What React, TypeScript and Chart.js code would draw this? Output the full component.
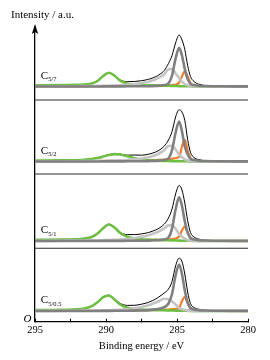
import React, { useEffect, useRef } from "react";
import { Chart, registerables } from "chart.js";

Chart.register(...registerables);

// Binding energy sample points (eV)
const energies = [295, 293, 292, 291.5, 291, 290.6, 290.2, 289.8, 289.4, 289, 288.5, 288, 287.5, 287, 286.5, 286.2, 285.9, 285.6, 285.35, 285.1, 284.85, 284.65, 284.45, 284.25, 284.05, 283.8, 283.5, 283, 282.5, 282, 281, 280];

// sample names (subscript of C) and vertical offsets of each stacked spectrum
const sampleNames = ["5/7", "5/2", "5/1", "5/0.5"];
const sampleOffsets = [235.2, 160.2, 80.7, 10.7];
const separatorLevels = [221.7, 147.7, 73.4];
const xTickValues = [295, 290, 285, 280];

// C 5/7
const s57Envelope = [1.3, 1.5, 1.8, 2.2, 3.2, 5.7, 10.7, 13.9, 11.2, 6.6, 4.8, 5.0, 5.8, 7.2, 9.8, 12.3, 16, 23, 31, 43.5, 51.5, 46.5, 37, 21, 10, 5, 2.5, 1.0, 0.5, 0.3, 0.1, 0];
const s57Main = [0, 0, 0, 0, 0, 0, 0.1, 0.1, 0.1, 0.1, 0.2, 0.2, 0.2, 0.3, 0.6, 0.9, 1.4, 3.1, 11, 27.9, 38.7, 31, 17.4, 7.4, 2.7, 1.4, 0.8, 0.5, 0.3, 0.2, 0.1, 0.1];
const s57Shoulder = [0, 0.2, 0.3, 0.4, 0.5, 0.6, 0.7, 0.8, 0.9, 1.1, 1.6, 2.4, 3.4, 4.8, 7.2, 9.3, 12.3, 17.2, 17.4, 13, 8.5, 4.8, 2.5, 1.2, 0.6, 0.3, 0.1, 0, 0, 0, 0, 0];
const s57Low = [0, 0.1, 0.2, 0.2, 0.3, 0.3, 0.35, 0.4, 0.45, 0.5, 0.6, 0.7, 0.8, 0.9, 1.0, 1.1, 1.2, 1.3, 1.5, 1.8, 4.0, 10, 15.3, 10, 3.5, 0.8, 0.3, 0.1, 0, 0, 0, 0];
const s57Carboxyl = [1.3, 1.4, 1.6, 2.0, 3.0, 5.5, 10.5, 13.7, 10.8, 5.8, 2.8, 1.8, 1.4, 1.2, 1.0, 0.9, 0.8, 0.7, 0.6, 0.5, 0.4, 0.3, 0.3, 0.2, 0.2, 0.1, 0.1, 0, 0, 0, 0, 0];

// C 5/2
const s52Envelope = [1.0, 1.2, 1.5, 2.0, 2.8, 3.8, 5.2, 6.7, 7.7, 7.4, 6.3, 6.5, 6.3, 7.3, 9.5, 11.8, 15.4, 21.5, 30, 44.5, 51.7, 49.5, 41, 22, 9, 4, 2, 0.8, 0.4, 0.2, 0.1, 0];
const s52Main = [0, 0, 0, 0, 0, 0, 0.1, 0.1, 0.1, 0.1, 0.2, 0.2, 0.2, 0.4, 0.6, 0.9, 1.5, 3.2, 11.4, 28.8, 40, 30, 15, 7, 2.8, 1.4, 0.8, 0.5, 0.3, 0.2, 0.1, 0.1];
const s52Shoulder = [0, 0.2, 0.3, 0.4, 0.5, 0.6, 0.7, 0.8, 0.9, 1.1, 1.6, 2.2, 3.0, 4.3, 6.5, 8.5, 11.3, 15.5, 15.8, 12, 7, 4.3, 2.2, 1.1, 0.5, 0.2, 0.1, 0, 0, 0, 0, 0];
const s52Low = [0, 0.2, 0.3, 0.3, 0.4, 0.5, 0.5, 0.6, 0.7, 0.8, 0.9, 1.0, 1.1, 1.3, 1.5, 1.7, 1.9, 2.2, 2.7, 3.5, 4.5, 15, 21.7, 11, 3.5, 0.9, 0.3, 0.1, 0, 0, 0, 0];
const s52Carboxyl = [1.0, 1.1, 1.3, 1.8, 2.5, 3.5, 4.9, 6.4, 7.4, 7.0, 5.3, 3.3, 2.0, 1.3, 0.9, 0.7, 0.6, 0.5, 0.4, 0.4, 0.3, 0.3, 0.2, 0.2, 0.1, 0.1, 0, 0, 0, 0, 0, 0];

// C 5/1
const s51Envelope = [1.2, 1.6, 2.0, 2.7, 4.4, 7.9, 13.2, 16.9, 14.0, 8.7, 6.4, 6.4, 7.1, 8.5, 11.1, 13.3, 16.8, 23, 32, 47, 55.5, 51, 38, 20.5, 8.5, 4, 2, 0.8, 0.4, 0.2, 0.1, 0];
const s51Main = [0, 0, 0, 0, 0, 0, 0.1, 0.1, 0.1, 0.1, 0.2, 0.2, 0.3, 0.4, 0.7, 1.0, 1.6, 3.5, 12.4, 31.5, 43.7, 35, 19.7, 8.3, 3.1, 1.5, 0.9, 0.5, 0.3, 0.2, 0.1, 0.1];
const s51Shoulder = [0, 0.3, 0.4, 0.5, 0.6, 0.7, 0.8, 0.9, 1.1, 1.4, 2.0, 2.9, 4.2, 5.8, 8.2, 10.2, 12.6, 15.6, 15.8, 12.5, 7, 4.5, 2.3, 1.1, 0.5, 0.2, 0.1, 0, 0, 0, 0, 0];
const s51Low = [0, 0.1, 0.2, 0.2, 0.3, 0.3, 0.4, 0.4, 0.5, 0.5, 0.6, 0.7, 0.8, 0.9, 1.1, 1.2, 1.3, 1.5, 1.8, 2.4, 4.5, 10.5, 14.3, 8.5, 2.5, 0.6, 0.2, 0, 0, 0, 0, 0];
const s51Carboxyl = [1.2, 1.4, 1.7, 2.4, 4.0, 7.5, 12.8, 16.5, 13.5, 8.0, 4.2, 2.6, 1.8, 1.4, 1.1, 0.9, 0.8, 0.7, 0.6, 0.5, 0.4, 0.3, 0.3, 0.2, 0.2, 0.1, 0.1, 0, 0, 0, 0, 0];

// C 5/0.5
const s505Envelope = [1.0, 1.3, 1.8, 2.8, 5.0, 9.0, 14.1, 15.8, 12.0, 7.6, 5.6, 5.7, 6.8, 8.7, 12, 14.8, 18, 22, 29.5, 45, 52.8, 49.5, 37, 19, 7.5, 3.5, 1.8, 0.7, 0.3, 0.2, 0.1, 0];
const s505Main = [0, 0, 0, 0, 0, 0, 0.1, 0.1, 0.2, 0.2, 0.3, 0.4, 0.6, 0.9, 1.6, 2.4, 3.8, 7.5, 17, 35.5, 46.5, 37, 20.5, 8.5, 3.2, 1.6, 0.9, 0.5, 0.3, 0.2, 0.1, 0.1];
const s505Shoulder = [0, 0.2, 0.3, 0.4, 0.5, 0.6, 0.7, 0.8, 1.0, 1.2, 1.8, 2.7, 4.0, 5.8, 8.5, 10.5, 12.2, 11.8, 9.5, 6.5, 3.0, 1.8, 0.9, 0.4, 0.2, 0.1, 0, 0, 0, 0, 0, 0];
const s505Low = [0, 0.1, 0.2, 0.2, 0.3, 0.3, 0.4, 0.4, 0.5, 0.5, 0.6, 0.7, 0.8, 0.9, 1.0, 1.1, 1.3, 1.5, 1.8, 2.2, 3.0, 10, 14, 8, 2.3, 0.6, 0.2, 0, 0, 0, 0, 0];
const s505Carboxyl = [1.0, 1.2, 1.6, 2.6, 4.8, 8.8, 13.8, 15.5, 11.5, 6.5, 3.2, 1.9, 1.4, 1.1, 0.9, 0.8, 0.7, 0.6, 0.5, 0.4, 0.3, 0.3, 0.2, 0.2, 0.1, 0.1, 0, 0, 0, 0, 0, 0];

const panels = [
  { envelope: s57Envelope, main: s57Main, shoulder: s57Shoulder, low: s57Low, carboxyl: s57Carboxyl },
  { envelope: s52Envelope, main: s52Main, shoulder: s52Shoulder, low: s52Low, carboxyl: s52Carboxyl },
  { envelope: s51Envelope, main: s51Main, shoulder: s51Shoulder, low: s51Low, carboxyl: s51Carboxyl },
  { envelope: s505Envelope, main: s505Main, shoulder: s505Shoulder, low: s505Low, carboxyl: s505Carboxyl },
];

const SERIF = "'Liberation Serif', 'Times New Roman', 'DejaVu Serif', serif";

const COLORS = {
  envelope: "#000000",
  main: "#808080",
  shoulder: "#c4c4c4",
  low: "#f07d2b",
  carboxyl: "#6fbf44",
};
const WIDTHS = { envelope: 1, main: 2.6, shoulder: 2.6, low: 2.2, carboxyl: 2.6 };
// higher order is drawn first (further back)
const ORDERS = { envelope: 8, low: 7, carboxyl: 6, shoulder: 5, main: 4 };

const decorations = {
  id: "decorations",
  afterDraw(chart: any) {
    const { ctx, chartArea, scales } = chart;
    const xs = scales.x;
    const ys = scales.y;
    ctx.save();
    // arrow head on the intensity axis
    const ax = chartArea.left;
    const tip = chartArea.top - 3;
    ctx.fillStyle = "#000";
    ctx.beginPath();
    ctx.moveTo(ax, tip);
    ctx.lineTo(ax + 3.2, tip + 10);
    ctx.lineTo(ax, tip + 8);
    ctx.lineTo(ax - 3.2, tip + 10);
    ctx.closePath();
    ctx.fill();

    // y-axis title
    ctx.font = `11px ${SERIF}`;
    ctx.textAlign = "left";
    ctx.textBaseline = "alphabetic";
    ctx.fillText("Intensity / a.u.", chartArea.left - 24, chartArea.top - 8.7);

    // origin
    ctx.font = `italic 11px ${SERIF}`;
    ctx.textAlign = "center";
    ctx.textBaseline = "middle";
    ctx.fillText("O", chartArea.left - 7.5, chartArea.bottom - 3);

    // sample labels
    sampleNames.forEach((name, i) => {
      const px = xs.getPixelForValue(294.6);
      const py = ys.getPixelForValue(sampleOffsets[i] + 8);
      ctx.font = `11px ${SERIF}`;
      ctx.textAlign = "left";
      ctx.textBaseline = "alphabetic";
      ctx.fillText("C", px, py);
      const w = ctx.measureText("C").width;
      ctx.font = `6.5px ${SERIF}`;
      ctx.fillText(name, px + w + 0.3, py + 2.8);
    });
    ctx.restore();
  },
};

export default function App() {
  const ref = useRef<HTMLCanvasElement | null>(null);

  useEffect(() => {
    if (!ref.current) return;
    const datasets: any[] = [];
    separatorLevels.forEach((lvl) => {
      datasets.push({
        data: [
          { x: 295, y: lvl },
          { x: 280, y: lvl },
        ],
        borderColor: "#2a2a2a",
        borderWidth: 1.1,
        pointRadius: 0,
        order: 9,
      });
    });
    panels.forEach((p, i) => {
      const base = sampleOffsets[i];
      (["envelope", "low", "carboxyl", "shoulder", "main"] as const).forEach((key) => {
        const vals = (p as any)[key] as number[];
        datasets.push({
          data: energies.map((e, j) => ({ x: e, y: base + vals[j] })),
          borderColor: COLORS[key],
          borderWidth: WIDTHS[key],
          pointRadius: 0,
          cubicInterpolationMode: "monotone",
          borderJoinStyle: "round",
          borderCapStyle: "round",
          order: ORDERS[key],
        });
      });
    });

    const chart = new Chart(ref.current, {
      type: "line",
      data: { datasets },
      options: {
        animation: false,
        responsive: false,
        devicePixelRatio: 1,
        events: [],
        layout: { padding: { left: 35, right: 22, top: 27, bottom: 8.2 } },
        plugins: { legend: { display: false }, tooltip: { enabled: false } },
        scales: {
          x: {
            type: "linear",
            min: 280,
            max: 295,
            reverse: true,
            border: { display: true, color: "#000", width: 1.3 },
            grid: {
              display: true,
              drawOnChartArea: false,
              drawTicks: true,
              tickLength: -3,
              color: "#000",
              lineWidth: 1,
            },
            ticks: {
              stepSize: 2.5,
              autoSkip: false,
              maxRotation: 0,
              padding: 5,
              color: "#000",
              font: { family: SERIF, size: 10.5, lineHeight: 1.2 },
              callback: (v: any) => (xTickValues.includes(Number(v)) ? String(v) : ""),
            },
            title: {
              display: true,
              text: "Binding energy / eV",
              color: "#000",
              font: { family: SERIF, size: 10.5, lineHeight: 1 },
              padding: { top: 0, bottom: 0 },
            },
          },
          y: {
            type: "linear",
            min: 0,
            max: 294.7,
            border: { display: true, color: "#000", width: 1.3 },
            grid: { display: false, drawTicks: false },
            ticks: { display: false },
          },
        },
      },
      plugins: [decorations],
    });
    return () => chart.destroy();
  }, []);

  return (
    <div style={{ position: "absolute", left: 0, top: 0, width: 270, height: 360, background: "#fff" }}>
      <canvas ref={ref} width={270} height={360} style={{ width: 270, height: 360 }} />
    </div>
  );
}
